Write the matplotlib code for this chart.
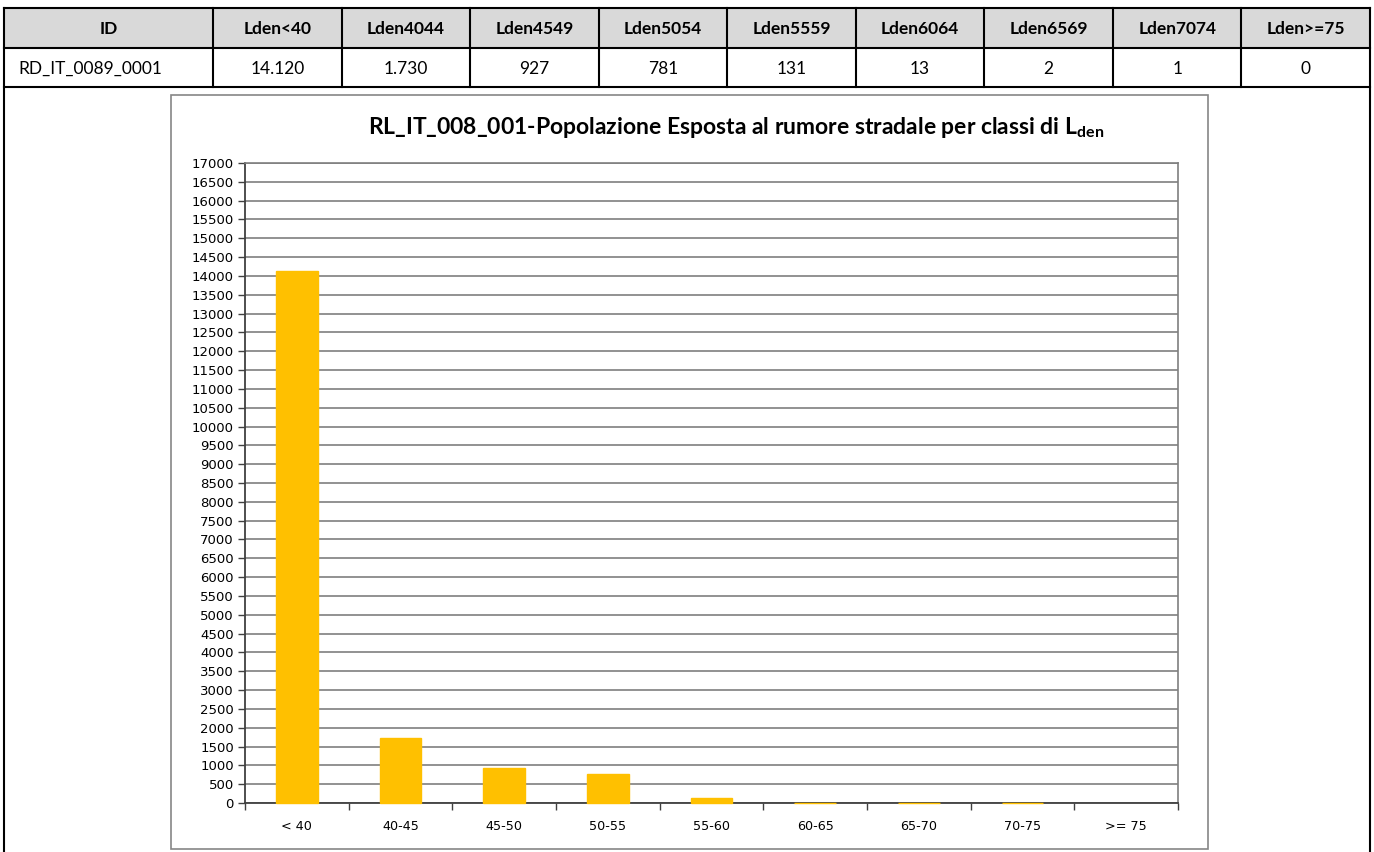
import numpy as np
import matplotlib
matplotlib.use("Agg")
import matplotlib.pyplot as plt
from matplotlib.patches import Rectangle

# dati della tabella / grafico
row_id = "RD_IT_0089_0001"
col_names = ["ID", "Lden<40", "Lden4044", "Lden4549", "Lden5054",
             "Lden5559", "Lden6064", "Lden6569", "Lden7074", "Lden>=75"]
exposed = [14120, 1730, 927, 781, 131, 13, 2, 1, 0]
classes = ["< 40", "40-45", "45-50", "50-55", "55-60", "60-65", "65-70", "70-75", ">= 75"]
y_ticks = list(range(0, 17001, 500))

plt.rcParams['mathtext.fontset'] = 'custom'
plt.rcParams['mathtext.rm'] = 'Lato'
plt.rcParams['mathtext.bf'] = 'Lato:bold'

W, H = 1374, 852
fig = plt.figure(figsize=(W / 100, H / 100), dpi=100)

# fondo in coordinate pixel per tabella e cornici
bg = fig.add_axes([0, 0, 1, 1])
bg.set_xlim(0, W)
bg.set_ylim(H, 0)
bg.axis("off")

col_edges = [4] + list(np.linspace(213, 1370, 10))
row_edges = [8, 48, 87]
line_kw = dict(color="black", lw=1.5, solid_capstyle="projecting")

bg.add_patch(Rectangle((col_edges[0], row_edges[0]), col_edges[-1] - col_edges[0],
                       row_edges[1] - row_edges[0], facecolor="#D9D9D9", edgecolor="none"))
for y in row_edges:
    bg.plot([col_edges[0], col_edges[-1]], [y, y], **line_kw)
for x in col_edges[1:-1]:
    bg.plot([x, x], [row_edges[0], row_edges[-1]], **line_kw)
# bordi esterni fino in fondo alla pagina
for x in (col_edges[0], col_edges[-1]):
    bg.plot([x, x], [row_edges[0], H + 2], **line_kw)

ym_head = (row_edges[0] + row_edges[1]) / 2 + 1
ym_data = (row_edges[1] + row_edges[2]) / 2 + 1
for i in range(len(col_names)):
    xc = (col_edges[i] + col_edges[i + 1]) / 2
    bg.text(xc, ym_head, col_names[i], ha="center", va="center",
            fontsize=12.5, fontweight="bold", family="Lato")
# l'ID e' allineato a sinistra, i valori centrati
bg.text(col_edges[0] + 14, ym_data, row_id, ha="left", va="center", fontsize=12.5, family="Lato")
for i, v in enumerate(exposed):
    xc = (col_edges[i + 1] + col_edges[i + 2]) / 2
    bg.text(xc, ym_data, f"{v:,}".replace(",", "."), ha="center", va="center",
            fontsize=12.5, family="Lato")

# cornice del grafico
bg.add_patch(Rectangle((171, 95), 1037, 754, fill=False, edgecolor="#868686", lw=1.2))

title = r"RL_IT_008_001-Popolazione Esposta al rumore stradale per classi di L$_{\mathbf{den}}$"
bg.text(736, 128, title, ha="center", va="center", fontsize=16.5, fontweight="bold", family="Lato")

# area del grafico
left, right, top, bottom = 245, 1178, 163, 803
ax = fig.add_axes([left / W, 1 - bottom / H, (right - left) / W, (bottom - top) / H])
x = np.arange(len(classes))
edges = ["#FFC000" if v > 0 else "none" for v in exposed]
ax.bar(x, exposed, width=0.4, color="#FFC000", edgecolor=edges, linewidth=1.0,
       zorder=3, clip_on=False)
ax.set_xlim(-0.5, len(classes) - 0.5)
ax.set_ylim(0, 17000)
ax.set_axisbelow(True)

ax.set_yticks(y_ticks)
ax.set_yticklabels([str(t) for t in y_ticks], fontsize=9.5, family="DejaVu Sans")
ax.yaxis.grid(True, color="#7F7F7F", lw=1.2)
ax.tick_params(axis="y", direction="out", length=5, width=1, color="#404040", pad=3)

ax.set_xticks(np.arange(len(classes) + 1) - 0.5)
ax.set_xticklabels([])
ax.set_xticks(x, minor=True)
ax.set_xticklabels(classes, minor=True, fontsize=9.2, family="DejaVu Sans")
ax.tick_params(axis="x", which="major", direction="out", length=5, width=1, color="#404040")
ax.tick_params(axis="x", which="minor", length=0, pad=12)

for s in ("left", "bottom"):
    ax.spines[s].set_color("#404040")
    ax.spines[s].set_linewidth(1.3)
for s in ("top", "right"):
    ax.spines[s].set_color("#7F7F7F")
    ax.spines[s].set_linewidth(1.2)

fig.savefig("out.png", dpi=100)
